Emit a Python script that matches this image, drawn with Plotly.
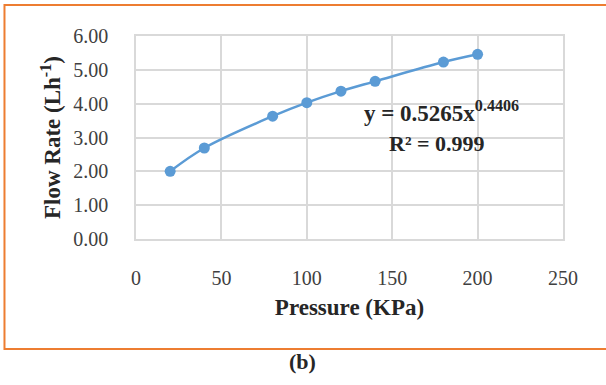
import plotly.graph_objects as go

pressure = [20, 40, 80, 100, 120, 140, 180, 200]
flow_rate = [2.00, 2.69, 3.63, 4.03, 4.37, 4.66, 5.23, 5.46]
x_ticks = [0, 50, 100, 150, 200, 250]
y_ticks = [0, 1, 2, 3, 4, 5, 6]
y_tick_labels = ["0.00", "1.00", "2.00", "3.00", "4.00", "5.00", "6.00"]

FONT = "Liberation Serif, Times New Roman, serif"
BLUE = "#5B9BD5"
GRID = "#D9D9D9"
TICK = dict(family=FONT, size=20, color="#404040")
TITLE = dict(family=FONT, size=23, color="#262626")

fig = go.Figure()
fig.add_trace(go.Scatter(
    x=pressure, y=flow_rate, mode="lines+markers",
    line=dict(color=BLUE, width=2.5, shape="spline"),
    marker=dict(color=BLUE, size=11),
    showlegend=False,
))

fig.update_layout(
    width=606, height=385,
    margin=dict(l=136, r=43, t=36, b=146),
    paper_bgcolor="white", plot_bgcolor="white",
    font=dict(family=FONT, color="#404040", size=20),
    xaxis=dict(
        range=[0, 250], tickvals=x_ticks, showgrid=True, gridcolor=GRID, gridwidth=1.5,
        zeroline=False, showline=True, linecolor=GRID, linewidth=1.5, mirror=True,
        ticks="", ticklabelstandoff=20, tickfont=TICK,
        title=dict(text="<b>Pressure (KPa)</b>", font=TITLE, standoff=11),
    ),
    yaxis=dict(
        range=[0, 6], tickvals=y_ticks, ticktext=y_tick_labels, showgrid=True,
        gridcolor=GRID, gridwidth=1.5, zeroline=False, showline=True, linecolor=GRID,
        linewidth=1.5, mirror=True, ticks="", ticklabelstandoff=22, tickfont=TICK,
        title=dict(text="<b>Flow Rate (Lh<sup>-1</sup>)</b>", font=TITLE, standoff=6),
    ),
    annotations=[
        dict(text="<b>y = 0.5265x<sup>0.4406</sup></b>", x=0.715, y=0.63, xref="paper", yref="paper",
             xanchor="center", yanchor="middle",
             showarrow=False, font=dict(family=FONT, size=23, color="#262626")),
        dict(text="<b>R² = 0.999</b>", x=0.705, y=0.47, xref="paper", yref="paper",
             xanchor="center", yanchor="middle",
             showarrow=False, font=dict(family=FONT, size=22, color="#262626")),
        dict(text="<b>(b)</b>", x=0.389, y=-0.605, xref="paper", yref="paper",
             xanchor="center", yanchor="middle",
             showarrow=False, font=dict(family=FONT, size=22, color="#262626")),
    ],
    shapes=[
        dict(type="rect", xref="paper", yref="paper", x0=-0.308, x1=1.2, y0=-0.542, y1=1.153,
             line=dict(color="#ED7D31", width=2), layer="below"),
    ],
)

fig.write_html("out.html", config={"displayModeBar": False},
               post_script="document.body.style.margin='0';document.body.style.overflow='hidden';")
